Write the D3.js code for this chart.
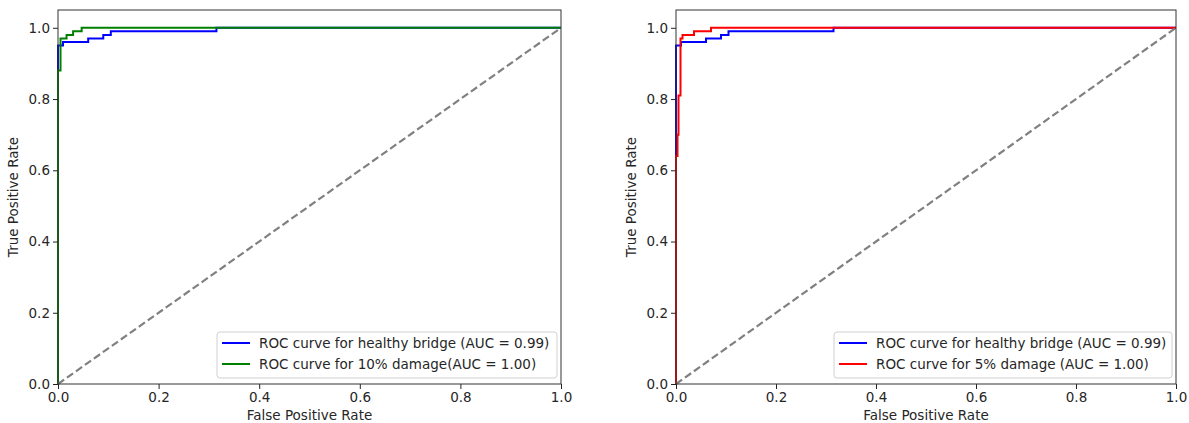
<!DOCTYPE html>
<html>
<head>
<meta charset="utf-8">
<script src="https://cdn.jsdelivr.net/npm/d3@7"></script>
<style>
  body { margin: 0; background: #fff; }
  text { font-family: "DejaVu Sans", sans-serif; fill: #262626; }
</style>
</head>
<body>
<script>
// ROC points
const fprHealthy = [0, 0, 0.01, 0.01, 0.06, 0.06, 0.09, 0.09, 0.105, 0.105, 0.315, 0.315, 1];
const tprHealthy = [0, 0.95, 0.95, 0.96, 0.96, 0.97, 0.97, 0.98, 0.98, 0.99, 0.99, 1, 1];

const fprDamage10 = [0, 0, 0.005, 0.005, 0.017, 0.017, 0.03, 0.03, 0.047, 0.047, 1];
const tprDamage10 = [0, 0.88, 0.88, 0.97, 0.97, 0.98, 0.98, 0.99, 0.99, 1, 1];

const fprDamage5 = [0, 0, 0.003, 0.003, 0.005, 0.005, 0.009, 0.009, 0.013, 0.013, 0.036, 0.036, 0.07, 0.07, 1];
const tprDamage5 = [0, 0.64, 0.64, 0.70, 0.70, 0.81, 0.81, 0.97, 0.97, 0.98, 0.98, 0.99, 0.99, 1, 1];

const xTicks = [0, 0.2, 0.4, 0.6, 0.8, 1.0];
const yTicks = [0, 0.2, 0.4, 0.6, 0.8, 1.0];

const labelHealthy = "ROC curve for healthy bridge (AUC = 0.99)";
const label10 = "ROC curve for 10% damage(AUC = 1.00)";
const label5 = "ROC curve for 5% damage (AUC = 1.00)";

const w = 1189, h = 423;
const fs = '13.5px';

const svg = d3.select('body').append('svg')
  .attr('width', w)
  .attr('height', h);

const panels = [
  { left: 58, right: 561, fpr2: fprDamage10, tpr2: tprDamage10, color2: '#008000', label2: label10, legX: 217, legW: 340 },
  { left: 676, right: 1176, fpr2: fprDamage5, tpr2: tprDamage5, color2: '#ff0000', label2: label5, legX: 834, legW: 338 }
];

const plotTop = 10, plotBottom = 384;

panels.forEach(p => {
  const xScale = d3.scaleLinear().domain([0, 1]).range([p.left, p.right]);
  const yScale = d3.scaleLinear().domain([0, 1.05]).range([plotBottom, plotTop]);

  const g = svg.append('g');

  const clipId = 'clip' + p.left;
  g.append('clipPath').attr('id', clipId)
    .append('rect')
    .attr('x', p.left - 2).attr('y', plotTop)
    .attr('width', p.right - p.left + 2).attr('height', plotBottom - plotTop + 2);

  const line = d3.line()
    .x(d => xScale(d[0]))
    .y(d => yScale(d[1]));

  const plot = g.append('g').attr('clip-path', `url(#${clipId})`);

  plot.append('path')
    .datum(fprHealthy.map((f, i) => [f, tprHealthy[i]]))
    .attr('d', line)
    .attr('fill', 'none')
    .attr('stroke', '#0000ff')
    .attr('stroke-width', 2);

  plot.append('path')
    .datum(p.fpr2.map((f, i) => [f, p.tpr2[i]]))
    .attr('d', line)
    .attr('fill', 'none')
    .attr('stroke', p.color2)
    .attr('stroke-width', 2);

  plot.append('path')
    .datum([[0, 0], [1, 1]])
    .attr('d', line)
    .attr('fill', 'none')
    .attr('stroke', '#808080')
    .attr('stroke-width', 2.2)
    .attr('stroke-dasharray', '7.5,3.5');

  // axes
  const xAxis = d3.axisBottom(xScale).tickValues(xTicks).tickFormat(d3.format('.1f')).tickSizeOuter(0).tickSize(5).tickPadding(3);
  const yAxis = d3.axisLeft(yScale).tickValues(yTicks).tickFormat(d3.format('.1f')).tickSizeOuter(0).tickSize(5).tickPadding(3);

  const gx = g.append('g').attr('transform', `translate(0,${plotBottom})`).call(xAxis);
  const gy = g.append('g').attr('transform', `translate(${p.left},0)`).call(yAxis);
  [gx, gy].forEach(a => {
    a.select('.domain').remove();
    a.selectAll('line').attr('stroke', '#222');
    a.selectAll('text').style('font-size', fs).attr('fill', '#262626');
  });

  // frame
  g.append('rect')
    .attr('x', p.left).attr('y', plotTop)
    .attr('width', p.right - p.left).attr('height', plotBottom - plotTop)
    .attr('fill', 'none')
    .attr('stroke', '#333')
    .attr('stroke-width', 1);

  g.append('text')
    .attr('x', (p.left + p.right) / 2)
    .attr('y', 420)
    .attr('text-anchor', 'middle')
    .style('font-size', fs)
    .text('False Positive Rate');

  g.append('text')
    .attr('transform', `translate(${p.left - 40},${(plotTop + plotBottom) / 2}) rotate(-90)`)
    .attr('text-anchor', 'middle')
    .style('font-size', fs)
    .text('True Positive Rate');

  // legend
  const leg = g.append('g');
  leg.append('rect')
    .attr('x', p.legX).attr('y', 332)
    .attr('width', p.legW).attr('height', 46)
    .attr('rx', 3)
    .attr('fill', '#fff').attr('fill-opacity', 0.8)
    .attr('stroke', '#d0d0d0');

  const items = [[labelHealthy, '#0000ff'], [p.label2, p.color2]];
  items.forEach((it, i) => {
    const yy = 343 + i * 21;
    leg.append('line')
      .attr('x1', p.legX + 5).attr('x2', p.legX + 33)
      .attr('y1', yy).attr('y2', yy)
      .attr('stroke', it[1]).attr('stroke-width', 2);
    leg.append('text')
      .attr('x', p.legX + 42).attr('y', yy)
      .attr('dy', '0.35em')
      .style('font-size', fs)
      .text(it[0]);
  });
});
</script>
</body>
</html>
